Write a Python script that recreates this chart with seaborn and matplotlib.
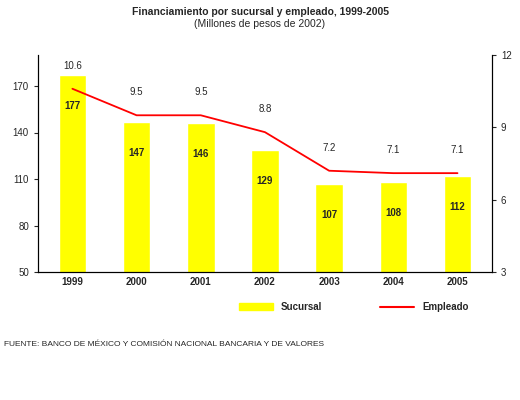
import matplotlib
matplotlib.use("Agg")
import matplotlib.pyplot as plt
import seaborn as sns
import pandas as pd
from matplotlib.patches import Patch
from matplotlib.lines import Line2D

years = ["1999", "2000", "2001", "2002", "2003", "2004", "2005"]
sucursal = [177, 147, 146, 129, 107, 108, 112]
empleado = [10.6, 9.5, 9.5, 8.8, 7.2, 7.1, 7.1]

df = pd.DataFrame({"year": years, "sucursal": sucursal, "empleado": empleado})

sns.set_style("white")
plt.rcParams["font.family"] = ["Liberation Sans", "DejaVu Sans"]

fig = plt.figure(figsize=(5.2, 4), dpi=100)
ax = fig.add_axes([0.073, 0.32, 0.873, 0.5425])
sns.barplot(data=df, x="year", y="sucursal", color="#FFFF00", width=0.43,
            saturation=1, ax=ax)
ax.set_ylim(50, 190)
ax.set_yticks([50, 80, 110, 140, 170])
ax.set_xlabel("")
ax.set_ylabel("")
for i, v in enumerate(sucursal):
    ax.text(i, v - 20, str(v), ha="center", va="center", fontsize=7, fontweight="bold")

ax2 = ax.twinx()
ax2.plot(range(len(years)), empleado, color="#FF0000", lw=1.3)
ax2.set_ylim(3, 12)
ax2.set_yticks([3, 6, 9, 12])
for i, v in enumerate(empleado):
    ax2.text(i, v + 0.95, f"{v:.1f}", ha="center", va="center", fontsize=7)

for a in (ax, ax2):
    a.tick_params(labelsize=7, length=3, direction="out")
    for s in a.spines.values():
        s.set_color("black")
        s.set_linewidth(0.8)
    a.spines["top"].set_visible(False)
for t in ax.get_xticklabels():
    t.set_fontweight("bold")
ax.tick_params(axis="x", length=0)

fig.text(0.5, 0.962, "Financiamiento por sucursal y empleado, 1999-2005",
         ha="center", fontsize=7.5, fontweight="bold")
fig.text(0.5, 0.933, "(Millones de pesos de 2002)", ha="center", fontsize=7.5)

handles = [Patch(color="#FFFF00", label="Sucursal"),
           Line2D([0], [0], color="#FF0000", lw=1.5, label="Empleado")]
fig.legend(handles=handles, loc="center", bbox_to_anchor=(0.68, 0.232), ncol=2,
           frameon=False, prop={"weight": "bold", "size": 7},
           columnspacing=6, handlelength=3.5)

fig.text(0.008, 0.135, "FUENTE: BANCO DE MÉXICO Y COMISIÓN NACIONAL BANCARIA Y DE VALORES",
         fontsize=6)

fig.savefig("out.png", dpi=100)
